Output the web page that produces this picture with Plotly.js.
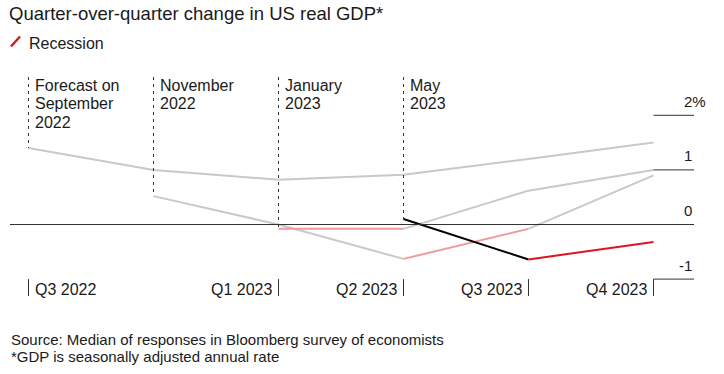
<!DOCTYPE html>
<html>
<head>
<meta charset="utf-8">
<script src="https://cdn.plot.ly/plotly-3.0.1.min.js"></script>
<style>html,body{margin:0;padding:0;background:#fff;}#chart{width:724px;height:374px;}</style>
</head>
<body>
<div id="chart"></div>
<script>
// ---- data ----
const quarters = ['Q3 2022', 'Q4 2022', 'Q1 2023', 'Q2 2023', 'Q3 2023', 'Q4 2023'];
const quarterTickLabels = ['Q3 2022', '', 'Q1 2023', 'Q2 2023', 'Q3 2023', 'Q4 2023'];
const forecastNames = ['Forecast on\nSeptember\n2022', 'November\n2022', 'January\n2023', 'May\n2023'];
const sep2022 = [1.4, 1.0, 0.82, 0.91, 1.2, 1.5];
const nov2022 = [null, 0.52, 0.0, -0.63, -0.08, 0.9];
const jan2023 = [null, null, -0.08, -0.08, 0.62, 1.0];
const may2023 = [null, null, null, 0.1, -0.64, -0.32];
const yTickValues = [2, 1, 0, -1];
const yTickLabels = ['2%', '1', '0', '-1'];
const legendLabel = 'Recession';
const titleText = 'Quarter-over-quarter change in US real GDP*';
const sourceLines = ['Source: Median of responses in Bloomberg survey of economists', '*GDP is seasonally adjusted annual rate'];

// ---- geometry (pixels -> data) ----
const W = 724, H = 374;
const XPX = 125, X0PX = 28.5;    // px per quarter, px of first quarter
const YPX = 54.6, Y0PX = 224.5;  // px per 1%, px of zero
const xr = [-X0PX / XPX, (W - X0PX) / XPX];
const yr = [-(H - Y0PX) / YPX, Y0PX / YPX];
const px2x = p => (p - X0PX) / XPX;
const px2y = p => (Y0PX - p) / YPX;

const FONT = 'Liberation Sans, Arial, Helvetica, sans-serif';
const TXT = '#1a1a1a';
const GRAY = '#c9c9c9', PINK = '#f09b9b', RED = '#e0141e', BLACK = '#000000';

const series = [sep2022, nov2022, jan2023, may2023];
const traces = [];
const shapes = [];
const annotations = [];

series.forEach((vals, si) => {
  const latest = si === series.length - 1;
  const normal = latest ? BLACK : GRAY;
  const rec = latest ? RED : PINK;
  let cur = null;
  for (let i = 0; i < vals.length - 1; i++) {
    if (vals[i] === null || vals[i + 1] === null) continue;
    const isRec = vals[i] < 0 && vals[i + 1] < 0;
    if (!cur || cur.rec !== isRec || cur.end !== i) {
      cur = {rec: isRec, xs: [i], ys: [vals[i]], end: i};
      traces.push(cur);
    }
    cur.xs.push(i + 1); cur.ys.push(vals[i + 1]); cur.end = i + 1;
    cur.color = isRec ? rec : normal;
  }
  const first = vals.findIndex(v => v !== null);
  shapes.push({type: 'line', xref: 'x', yref: 'y', x0: first, x1: first,
    y0: px2y(77), y1: vals[first], line: {color: '#333', width: 1, dash: '3px,4px'}});
  forecastNames[si].split('\n').forEach((ln, li) => {
    annotations.push({xref: 'x', yref: 'y', x: first, y: px2y(85), text: ln, showarrow: false,
      xanchor: 'left', yanchor: 'middle', xshift: 4, yshift: -li * 18.5,
      font: {family: FONT, size: 16, color: TXT}});
  });
});

const plotTraces = traces.map(t => ({
  type: 'scatter', mode: 'lines', x: t.xs, y: t.ys,
  line: {color: t.color, width: 2}, hoverinfo: 'skip'
}));

shapes.push({type: 'line', xref: 'x', yref: 'y', x0: px2x(10), x1: px2x(694), y0: 0, y1: 0,
  line: {color: '#333', width: 1}});
yTickValues.forEach((v, i) => {
  if (v !== 0) {
    shapes.push({type: 'line', xref: 'x', yref: 'y', x0: quarters.length - 1, x1: px2x(694), y0: v, y1: v,
      line: {color: '#333', width: 1}});
  }
  const lab = yTickLabels[i];
  annotations.push({xref: 'x', yref: 'y', x: px2x(694), y: v, text: lab, showarrow: false,
    xanchor: 'right', yanchor: 'middle', yshift: 14, xshift: lab.endsWith('%') ? 14 : 0,
    font: {family: FONT, size: 15, color: TXT}});
});
quarterTickLabels.forEach((lab, i) => {
  if (!lab) return;
  shapes.push({type: 'line', xref: 'x', yref: 'y', x0: i, x1: i, y0: -1, y1: px2y(296),
    line: {color: '#333', width: 1}});
  annotations.push({xref: 'x', yref: 'y', x: i, y: px2y(289.5), text: lab, showarrow: false,
    xanchor: i === 0 ? 'left' : 'right', yanchor: 'middle', xshift: i === 0 ? 4 : -5,
    font: {family: FONT, size: 16, color: TXT}});
});

shapes.push({type: 'line', xref: 'paper', yref: 'paper', x0: 11 / W, x1: 20 / W, y0: 1 - 46.5 / H, y1: 1 - 36.5 / H,
  line: {color: RED, width: 2.5}});
annotations.push({xref: 'paper', yref: 'paper', x: 27 / W, y: 1 - 43 / H, text: legendLabel, showarrow: false,
  xanchor: 'left', yanchor: 'middle', font: {family: FONT, size: 16, color: TXT}});

sourceLines.forEach((ln, i) => {
  annotations.push({xref: 'paper', yref: 'paper', x: 9 / W, y: 1 - (339.5 + i * 17) / H, text: ln, showarrow: false,
    xanchor: 'left', yanchor: 'middle', font: {family: FONT, size: 15, color: TXT}});
});

const layout = {
  width: W, height: H,
  margin: {l: 0, r: 0, t: 0, b: 0, pad: 0},
  paper_bgcolor: '#fff', plot_bgcolor: '#fff',
  showlegend: false,
  title: {text: titleText, x: 9 / W, xref: 'container', xanchor: 'left', y: 1 - 14 / H, yanchor: 'middle',
    font: {family: FONT, size: 18.5, color: TXT}},
  xaxis: {range: xr, visible: false, fixedrange: true},
  yaxis: {range: yr, visible: false, fixedrange: true},
  shapes: shapes,
  annotations: annotations
};

Plotly.newPlot('chart', plotTraces, layout, {staticPlot: true, displayModeBar: false});
</script>
</body>
</html>
